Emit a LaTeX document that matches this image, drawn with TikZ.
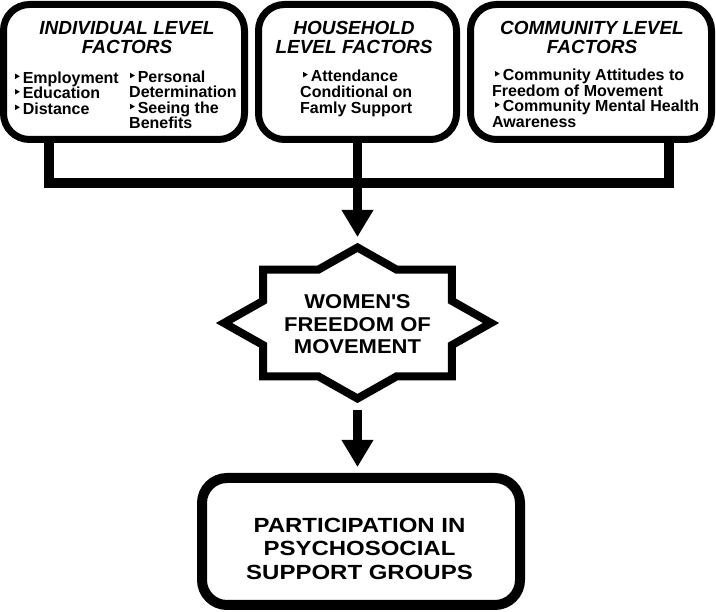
\documentclass[tikz,border=0pt]{standalone}
\usepackage{fontspec}
\setmainfont{Liberation Sans}
\newfontfamily\starfont{Liberation Sans}[FakeStretch=1.1]
\newfontfamily\botfont{Liberation Sans}[FakeStretch=1.17]
\usetikzlibrary{arrows.meta}
\newcommand{\bul}{\tikz[baseline=-4.3pt]\fill (0pt,0pt)--(0pt,5.4pt)--(4.6pt,2.7pt)--cycle;\hspace{3pt}}
\tikzset{
 box/.style={draw, line width=7pt, rounded corners=26pt, outer sep=0pt, inner sep=0pt, minimum height=135pt},
 botbox/.style={draw, line width=10pt, rounded corners=25pt, outer sep=0pt, inner sep=0pt, minimum width=318pt, minimum height=127pt},
 conn/.style={line width=9.5pt, line join=miter, line cap=butt},
 arr/.style={conn, -{Triangle[width=30pt,length=27pt]}},
 starline/.style={line width=8pt, line join=miter},
 ttl/.style={font=\bfseries\itshape\fontsize{19}{19}\selectfont, align=center, anchor=base, inner sep=0pt},
 body/.style={font=\bfseries\fontsize{16}{15.5}\selectfont, align=left, anchor=base west, inner sep=0pt},
 startext/.style={font=\starfont\bfseries\fontsize{20}{22.5}\selectfont, align=center, anchor=base, inner sep=0pt},
 bottext/.style={font=\botfont\bfseries\fontsize{20.5}{23.5}\selectfont, align=center, anchor=base, inner sep=0pt},
}
\begin{document}
\begin{tikzpicture}[x=1pt,y=-1pt]
\useasboundingbox (0,0) rectangle (716,612);
% top boxes
\node[box, minimum width=241pt] (b1) at (124,72) {};
\node[box, minimum width=198pt] (b2) at (357.5,72) {};
\node[box, minimum width=241pt] (b3) at (591,72) {};
% titles (anchor = baseline of last line)
\node[ttl] (t1) at (127,54) {INDIVIDUAL LEVEL\\FACTORS};
\node[ttl] (t2) at (354,54) {HOUSEHOLD\\LEVEL FACTORS};
\node[ttl] (t3) at (592,54) {COMMUNITY LEVEL\\FACTORS};
% bodies
\node[body] (l1) at (15,114.3) {\bul Employment\\\bul Education\\\bul Distance};
\node[body] (l2) at (129,129) {\hspace*{1pt}\bul Personal\\Determination\\\hspace*{1pt}\bul Seeing the\\Benefits};
\node[body, font=\bfseries\fontsize{16}{16.2}\selectfont] (l3) at (300,114) {\hspace*{3pt}\bul Attendance\\Conditional on\\Famly Support};
\node[body] (l4) at (492,127.3) {\hspace*{3pt}\bul Community Attitudes to\\Freedom of Movement\\\hspace*{3pt}\bul Community Mental Health\\Awareness};
% star
\draw[starline, shift={(357.5,323)}]
 (90:133.5 and 75.5) -- (67.5:102.1 and 57.8) -- (45:133.5 and 75.5) -- (22.5:102.1 and 57.8)
 -- (0:133.5 and 75.5) -- (-22.5:102.1 and 57.8) -- (-45:133.5 and 75.5) -- (-67.5:102.1 and 57.8)
 -- (-90:133.5 and 75.5) -- (-112.5:102.1 and 57.8) -- (-135:133.5 and 75.5) -- (-157.5:102.1 and 57.8)
 -- (180:133.5 and 75.5) -- (157.5:102.1 and 57.8) -- (135:133.5 and 75.5) -- (112.5:102.1 and 57.8) -- cycle;
\coordinate (startop) at (357.5,243);
\coordinate (starbot) at (357.5,403);
\node[startext] (st) at (357.5,354) {WOMEN\textquotesingle S\\FREEDOM OF\\MOVEMENT};
% bottom box
\node[botbox] (bot) at (361,541.5) {};
\node[bottext] (bt) at (359.5,579.3) {PARTICIPATION IN\\PSYCHOSOCIAL\\SUPPORT GROUPS};
% connectors
\draw[conn] ([xshift=45.5pt]b1.south west) -- ++(0,43.5) -| ([xshift=-42.5pt]b3.south east);
\draw[arr, shorten >=6pt] (b2.south) -- (startop);
\draw[arr, shorten <=7pt, shorten >=11pt] (starbot) -- (starbot |- bot.north);
\end{tikzpicture}
\end{document}
